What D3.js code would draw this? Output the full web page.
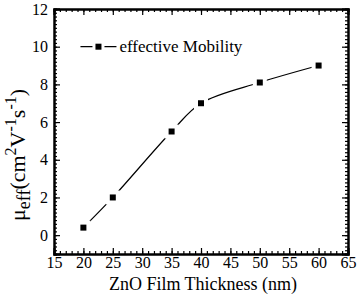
<!DOCTYPE html>
<html>
<head>
<meta charset="utf-8">
<script src="https://cdn.jsdelivr.net/npm/d3@7"></script>
<style>
  body { margin: 0; background: #fff; }
  svg text { font-family: "Liberation Serif", "Times New Roman", Times, serif; }
  .axis path, .axis line { stroke: #000; }
  .axis path { stroke-width: 2; }
  .axis line { stroke-width: 1.2; }
</style>
</head>
<body>
<svg class="chart" width="357" height="296"></svg>
<script>
// data
const thickness = [20, 25, 35, 40, 50, 60];
const mobility = [0.4, 2.0, 5.5, 7.0, 8.1, 9.0];
const xTicks = [15, 20, 25, 30, 35, 40, 45, 50, 55, 60, 65];
const yTicks = [0, 2, 4, 6, 8, 10, 12];
const seriesName = "effective Mobility";

const serif = "Liberation Serif, Times New Roman, Times, serif";

const svg = d3.select(".chart");
const margin = {top: 9, right: 9, bottom: 42, left: 54};
const width = +svg.attr("width") - margin.left - margin.right;
const height = +svg.attr("height") - margin.top - margin.bottom;
const g = svg.append("g").attr("transform", `translate(${margin.left},${margin.top})`);

const x = d3.scaleLinear().domain([15, 65]).range([0, width]);
const y = d3.scaleLinear().domain([-1, 12]).range([height, 0]);

const xMinor = d3.range(15, 65.01, 1);
const yMinor = d3.range(-1, 12.01, 0.2);

// minor ticks (all four sides, pointing inward)
g.append("g").attr("class", "axis").attr("transform", `translate(0,${height})`)
    .call(d3.axisBottom(x).tickValues(xMinor).tickSize(-3).tickFormat(""));
g.append("g").attr("class", "axis")
    .call(d3.axisTop(x).tickValues(xMinor).tickSize(-3).tickFormat(""));
g.append("g").attr("class", "axis")
    .call(d3.axisLeft(y).tickValues(yMinor).tickSize(-3).tickFormat(""));
g.append("g").attr("class", "axis").attr("transform", `translate(${width},0)`)
    .call(d3.axisRight(y).tickValues(yMinor).tickSize(-3).tickFormat(""));

// major ticks
g.append("g").attr("class", "axis").attr("transform", `translate(0,${height})`)
    .call(d3.axisBottom(x).tickValues(xTicks).tickSize(-6).tickPadding(3));
g.append("g").attr("class", "axis")
    .call(d3.axisTop(x).tickValues(xTicks).tickSize(-6).tickFormat(""));
g.append("g").attr("class", "axis")
    .call(d3.axisLeft(y).tickValues(yTicks).tickSize(-6).tickPadding(6));
g.append("g").attr("class", "axis").attr("transform", `translate(${width},0)`)
    .call(d3.axisRight(y).tickValues(yTicks).tickSize(-6).tickFormat(""));

svg.selectAll(".axis text")
    .style("font-family", serif)
    .style("font-size", "16px")
    .attr("fill", "#000");

// line
const pts = thickness.map((t, i) => [t, mobility[i]]);
g.append("path")
    .datum(pts)
    .attr("fill", "none")
    .attr("stroke", "#000")
    .attr("stroke-width", 1.2)
    .attr("d", d3.line().x(d => x(d[0])).y(d => y(d[1])).curve(d3.curveCatmullRom.alpha(0.5)));

// markers with white gap around them
const mk = g.append("g").selectAll("g").data(pts).enter().append("g")
    .attr("transform", d => `translate(${x(d[0])},${y(d[1])})`);
mk.append("rect").attr("x", -7).attr("y", -7).attr("width", 14).attr("height", 14).attr("fill", "#fff");
mk.append("rect").attr("x", -3).attr("y", -3).attr("width", 6).attr("height", 6).attr("fill", "#000");

// legend
const lg = g.append("g").attr("transform", `translate(${x(19.5)},${y(10)})`);
lg.append("line").attr("x1", 0).attr("x2", 36).attr("stroke", "#000").attr("stroke-width", 1.2);
lg.append("rect").attr("x", 12).attr("y", -6).attr("width", 12).attr("height", 12).attr("fill", "#fff");
lg.append("rect").attr("x", 15).attr("y", -3).attr("width", 6).attr("height", 6).attr("fill", "#000");
lg.append("text").attr("x", 39).attr("y", 5)
    .style("font-size", "17px").text(seriesName);

// axis titles
svg.append("text")
    .attr("x", margin.left + width / 2 + 2).attr("y", 290)
    .attr("text-anchor", "middle")
    .style("font-size", "18px")
    .text("ZnO Film Thickness (nm)");

const yl = svg.append("text")
    .attr("transform", `translate(25,155) rotate(-90)`)
    .attr("text-anchor", "middle")
    .style("font-size", "22px");
yl.append("tspan").text("\u03bc");
yl.append("tspan").attr("dy", 5).style("font-size", "18px").text("eff");
yl.append("tspan").attr("dy", -5).text("(cm");
yl.append("tspan").attr("dy", -9).style("font-size", "16px").text("2");
yl.append("tspan").attr("dy", 9).text("V");
yl.append("tspan").attr("dy", -9).style("font-size", "16px").text("-1");
yl.append("tspan").attr("dy", 9).text("s");
yl.append("tspan").attr("dy", -9).style("font-size", "16px").text("-1");
yl.append("tspan").attr("dy", 9).text(")");
</script>
</body>
</html>
